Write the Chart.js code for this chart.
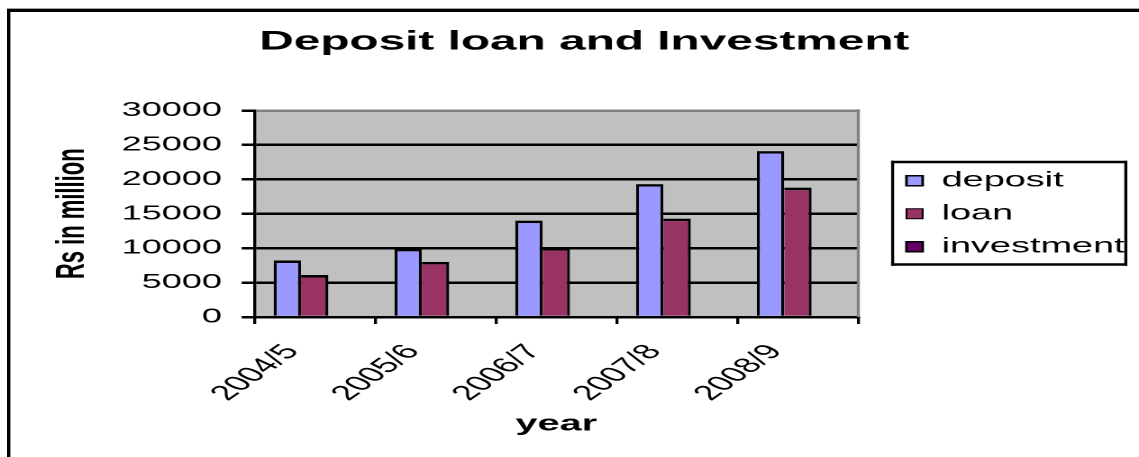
<!DOCTYPE html>
<html>
<head>
<meta charset="utf-8">
<title>Deposit loan and Investment</title>
<script src="https://cdn.jsdelivr.net/npm/chart.js@4.4.1/dist/chart.umd.min.js"></script>
<style>
  html, body { margin: 0; padding: 0; background: #fff; overflow: hidden; }
  #frame {
    position: absolute; left: 7px; top: 9px; width: 1200px; height: 500px;
    border-left: 3px solid #000; border-top: 3px solid #000;
    box-shadow: 0 -1px 0 #a0a0a0, inset 1px 0 0 #a0a0a0;
  }
  #chart { position: absolute; left: 0; top: 0; }
</style>
</head>
<body>
<div id="frame"></div>
<canvas id="chart" width="632" height="457" style="width:1139px;height:457px"></canvas>
<script>
const years = ["2004/5", "2005/6", "2006/7", "2007/8", "2008/9"];
const deposit = [8200, 9900, 14000, 19300, 24100];
const loan = [6100, 8000, 10000, 14300, 18800];
const investment = [null, null, null, null, null];
const yTicks = [0, 5000, 10000, 15000, 20000, 25000, 30000];

// canvas is drawn narrow and widened by css, so vertical strokes
// get widths divided by the same factor to stay as thick as horizontal ones
const SX = 1139 / 632;
const v = w => w / SX;
const FONT = "'Liberation Sans', Arial, sans-serif";

// grey plot background and its grey right edge
const plotFrame = {
  id: "plotFrame",
  beforeDraw(chart) {
    const { ctx, chartArea: a } = chart;
    ctx.save();
    ctx.fillStyle = "#c0c0c0";
    ctx.fillRect(a.left, a.top, a.right - a.left, a.bottom - a.top);
    ctx.restore();
  },
  afterDatasetsDraw(chart) {
    const { ctx, chartArea: a } = chart;
    ctx.save();
    ctx.fillStyle = "#808080";
    ctx.fillRect(a.right - v(1.5), a.top - 1.25, v(3), a.bottom - a.top + 1.25);
    ctx.restore();
  }
};

// box around the legend entries
const legendFrame = {
  id: "legendFrame",
  afterDraw(chart) {
    const boxes = chart.legend && chart.legend.legendHitBoxes;
    if (!boxes || !boxes.length) return;
    const ctx = chart.ctx;
    const l = Math.min(...boxes.map(b => b.left)) - 8.5;
    const r = Math.max(...boxes.map(b => b.left + b.width)) + 1.5;
    const t = Math.min(...boxes.map(b => b.top)) - 9.5;
    const btm = Math.max(...boxes.map(b => b.top + b.height)) + 8.5;
    ctx.save();
    ctx.fillStyle = "#000";
    ctx.fillRect(l, t, r - l, 2.5);
    ctx.fillRect(l, btm - 2.5, r - l, 2.5);
    ctx.fillRect(l, t, v(3), btm - t);
    ctx.fillRect(r - v(3), t, v(3), btm - t);
    ctx.restore();
  }
};

const ctx = document.getElementById("chart").getContext("2d");
new Chart(ctx, {
  type: "bar",
  data: {
    labels: years,
    datasets: [
      {
        label: "deposit",
        data: deposit,
        backgroundColor: "#9999ff",
        borderColor: "#000",
        borderWidth: { top: 2.5, left: v(3), right: v(3), bottom: 0 }
      },
      {
        label: "loan",
        data: loan,
        backgroundColor: "#993366",
        borderColor: "#000",
        borderWidth: { top: 2.5, left: 0, right: v(3), bottom: 0 }
      },
      {
        label: "investment",
        data: investment,
        backgroundColor: "#660066",
        borderColor: "#000",
        borderWidth: { top: 2.5, left: v(3), right: v(3), bottom: 0 }
      }
    ]
  },
  options: {
    responsive: false,
    animation: false,
    devicePixelRatio: 2,
    layout: { padding: { left: 14.4, right: -2, top: 0, bottom: 0 } },
    datasets: { bar: { categoryPercentage: 0.68, barPercentage: 1 } },
    scales: {
      x: {
        offset: true,
        grid: { offset: true, drawOnChartArea: false, color: "#000", lineWidth: v(3), tickLength: 7 },
        border: { color: "#000", width: 2.5 },
        ticks: {
          color: "#000",
          font: { family: FONT, size: 21 },
          minRotation: 51,
          maxRotation: 51,
          autoSkip: false,
          padding: 16,
          labelOffset: -12.5
        },
        title: {
          display: true,
          text: "year",
          color: "#000",
          font: { family: FONT, size: 22, weight: "bold" },
          padding: { top: 0, bottom: 19.4 }
        },
        afterFit: s => { s.height = 140; }
      },
      y: {
        min: 0,
        max: 30000,
        afterBuildTicks: s => { s.ticks = yTicks.map(value => ({ value })); },
        grid: {
          color: c => (c.tick && c.tick.value === 30000 ? "#808080" : "#000"),
          tickColor: "#000",
          lineWidth: 2.5,
          tickLength: 7
        },
        border: { color: "#000", width: v(3) },
        ticks: {
          color: "#000",
          font: { family: FONT, size: 20 },
          padding: 11,
          callback: val => String(val)
        },
        title: {
          display: true,
          text: "Rs in million",
          color: "#000",
          font: { family: FONT, size: 22, weight: "bold" },
          padding: { top: 13, bottom: 0 }
        },
        afterFit: s => { s.width = 126.7; }
      },
      // empty strip between the plot and the legend
      gap: {
        position: "right",
        display: true,
        grid: { display: false },
        border: { display: false },
        ticks: { display: false },
        afterFit: s => { s.width = 14.7; }
      }
    },
    plugins: {
      title: {
        display: true,
        text: "Deposit loan and Investment",
        color: "#000",
        font: { family: FONT, size: 26.5, weight: "bold" },
        padding: { top: 26.1, bottom: 52.6 }
      },
      legend: {
        position: "right",
        fullSize: false,
        maxWidth: 200,
        labels: {
          boxWidth: 9,
          boxHeight: 10,
          padding: 12,
          color: "#000",
          font: { family: FONT, size: 21 }
        }
      },
      tooltip: { enabled: false }
    }
  },
  plugins: [plotFrame, legendFrame]
});
</script>
</body>
</html>
